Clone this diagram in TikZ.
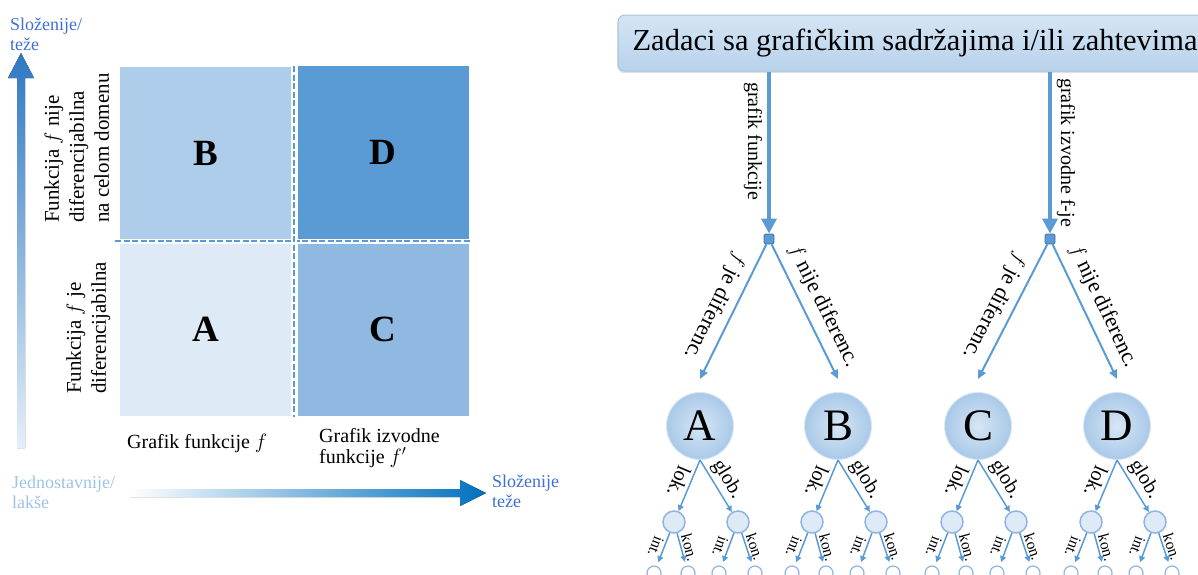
\documentclass[tikz,border=0pt]{standalone}
\usepackage{fontspec}
\setmainfont{Liberation Serif}
\usetikzlibrary{arrows.meta,positioning,shadows}

\definecolor{cellA}{HTML}{DEEBF7}
\definecolor{cellB}{HTML}{AECDEA}
\definecolor{cellC}{HTML}{8FB9E0}
\definecolor{cellD}{HTML}{5B9BD5}
\definecolor{edgeblue}{HTML}{5B9BD5}
\definecolor{hubedge}{HTML}{41719C}
\definecolor{axdark}{HTML}{3F6FD6}
\definecolor{axlight}{HTML}{9DC3E6}
\definecolor{axblue}{HTML}{0070C0}
\definecolor{axtop}{HTML}{2E78C2}
\definecolor{axbot}{HTML}{E5EFF9}
\definecolor{boxtop}{HTML}{D5E5F4}
\definecolor{boxbot}{HTML}{B7D2EB}
\definecolor{boxedge}{HTML}{A9C4DE}
\definecolor{ballin}{HTML}{D6E6F5}
\definecolor{ballout}{HTML}{A9C9E8}
\definecolor{ringblue}{HTML}{8EB4E3}

\tikzset{
  cell/.style={minimum width=171pt, minimum height=173pt, inner sep=0pt,
    font=\fontsize{37}{40}\selectfont\bfseries},
  sep/.style={draw=edgeblue, line width=2.5pt, dash pattern=on 6pt off 2.5pt,
    preaction={draw=white, line width=5pt, solid}},
  sidetxt/.style={rotate=90, align=left, inner sep=0pt, anchor=north west,
    font=\fontsize{21}{25}\selectfont},
  axtxt/.style={align=left, inner sep=0pt, anchor=north west,
    font=\fontsize{18}{20}\selectfont},
  coltxt/.style={align=left, inner sep=0pt, anchor=north west,
    font=\fontsize{20}{21}\selectfont},
  taskbox/.style={rectangle, rounded corners=7pt, draw=boxedge, line width=1pt,
    top color=boxtop, bottom color=boxbot, minimum width=594pt, minimum height=56pt,
    drop shadow={opacity=0.25, shadow xshift=-1pt, shadow yshift=-2pt},
    font=\fontsize{30.5}{34}\selectfont},
  hub/.style={rectangle, rounded corners=1.5pt, fill=edgeblue, draw=hubedge,
    line width=0.8pt, minimum size=10pt, inner sep=0pt},
  mainarr/.style={draw=edgeblue, line width=3.5pt, -{Triangle[length=15pt,width=15pt]}},
  subarr/.style={draw=edgeblue, line width=2pt, -{Triangle[length=9pt,width=8pt]}},
  lowarr/.style={draw=edgeblue, line width=1.5pt, -{Triangle[length=6pt,width=6pt]}},
  ball/.style={circle, minimum size=67pt, inner sep=0pt, draw=ballin, line width=1pt,
    inner color=ballin, outer color=ballout, font=\fontsize{45}{48}\selectfont},
  sub/.style={circle, minimum size=22pt, inner sep=0pt, fill=cellA, draw=ringblue,
    line width=1.5pt},
  leaf/.style={circle, minimum size=14pt, inner sep=0pt, fill=white, draw=ringblue,
    line width=1.2pt},
  rotlbl/.style={sloped, allow upside down, inner sep=5pt},
  toplbl/.style={rotlbl, font=\fontsize{20}{22}\selectfont},
  caselbl/.style={rotlbl, inner sep=8pt, font=\fontsize{22}{24}\selectfont},
  loklbl/.style={rotlbl, inner sep=3pt, font=\fontsize{20.5}{22}\selectfont},
  intlbl/.style={rotlbl, inner sep=2pt, font=\fontsize{15.5}{17}\selectfont}
}

\begin{document}
\begin{tikzpicture}[x=1pt,y=-1pt]
\useasboundingbox (0,0) rectangle (1198,574);

% left: the four cases
\node [cell, fill=cellB] (qB) at (205.5,153) {B};
\node [cell, fill=cellD] (qD) at (383,152) {D};
\node [cell, fill=cellA] (qA) at (205.5,329) {A};
\node [cell, fill=cellC] (qC) at (383,329) {C};
\draw [sep] (115,241) -- (470,241);
\draw [sep] (294,66) -- (294,417);

\node [sidetxt] (rowtop) at (44,223) {Funkcija $f$ nije\\diferencijabilna\\na celom domenu};
\node [sidetxt] (rowbot) at (66,394) {Funkcija $f$ je\\diferencijabilna};
\node [coltxt] (colleft) at (127,434) {Grafik funkcije $f$};
\node [coltxt] (colright) at (319,428) {Grafik izvodne\\funkcije $f'$};

% axes
\fill [top color=axtop, bottom color=axbot] (17,448) -- (17,78) -- (8,78) -- (21,53)
  -- (34,78) -- (25,78) -- (25,448) -- cycle;
\fill [left color=white, right color=axblue] (130,489) -- (460,489) -- (460,480)
  -- (486,493) -- (460,506) -- (460,497) -- (130,497) -- cycle;
\node [axtxt, text=axdark] (uphard) at (10,18) {Složenije/\\teže};
\node [axtxt, text=axlight] (easy) at (12,476) {Jednostavnije/\\lakše};
\node [axtxt, text=axdark] (righthard) at (492,475) {Složenije\\teže};

% right: the tree
\node [taskbox] (task) at (915,43) {Zadaci sa grafičkim sadržajima i/ili zahtevima};
\node [hub] (hf) at (769,239) {};
\node [hub] (hd) at (1050,239) {};
\draw [mainarr] (task.south -| hf) -- (hf.north)
  node [toplbl, pos=0.43, below] {grafik funkcije};
\draw [mainarr] (task.south -| hd) -- (hd.north)
  node [toplbl, pos=0.5, above] {grafik izvodne f-je};

\foreach \n/\x in {A/700,B/838,C/978,D/1117} {
  \node [ball] (\n) at (\x,426) {\n};
  \node [sub] (l\n) at (\x-26,522) {};
  \node [sub] (g\n) at (\x+38,522) {};
  \node [leaf] (li\n) at (\x-46,573) {};
  \node [leaf] (lk\n) at (\x-12,573) {};
  \node [leaf] (gi\n) at (\x+19,573) {};
  \node [leaf] (gk\n) at (\x+55,573) {};
  \draw [lowarr] (\n.south) -- (l\n) node [loklbl, midway, below] {lok.};
  \draw [lowarr] (\n.south) -- (g\n) node [loklbl, midway, above] {glob.};
  \draw [lowarr, shorten >=4pt] (l\n) -- (li\n) node [intlbl, midway, below] {int.};
  \draw [lowarr, shorten >=4pt] (l\n) -- (lk\n) node [intlbl, midway, above] {kon.};
  \draw [lowarr, shorten >=4pt] (g\n) -- (gi\n) node [intlbl, midway, below] {int.};
  \draw [lowarr, shorten >=4pt] (g\n) -- (gk\n) node [intlbl, midway, above] {kon.};
}

\draw [subarr] (hf) -- ([yshift=13pt]A.north)
  node [caselbl, pos=0.52, below] {$f$ je diferenc.};
\draw [subarr] (hf) -- ([yshift=13pt]B.north)
  node [caselbl, pos=0.52, above] {$f$ nije diferenc.};
\draw [subarr] (hd) -- ([yshift=13pt]C.north)
  node [caselbl, pos=0.52, below] {$f$ je diferenc.};
\draw [subarr] (hd) -- ([yshift=13pt]D.north)
  node [caselbl, pos=0.52, above] {$f$ nije diferenc.};

\end{tikzpicture}
\end{document}
